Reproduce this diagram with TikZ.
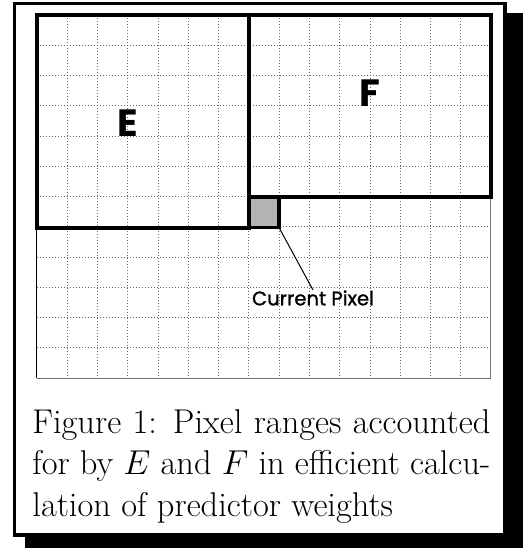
\documentclass[tikz,border=0pt]{standalone}
\usepackage{fontspec}
\usepackage{tikz}
\usetikzlibrary{positioning}
\newfontfamily\labelfont{Poppins}
\newfontfamily\pixfont[FakeBold=1.2]{Poppins}
\definecolor{pixgray}{RGB}{180,180,180}

\begin{document}
\begin{tikzpicture}[
    x=0.5pt, y=-0.5pt,
    gridline/.style={black!60, line width=0.45pt, dash pattern=on 0.45pt off 1.05pt},
    region/.style={draw, line width=1.6pt},
    regionlbl/.style={font=\labelfont\bfseries\fontsize{19}{23}\selectfont, inner sep=0pt},
    pixlbl/.style={font=\pixfont\fontsize{9.8}{11}\selectfont, inner sep=0pt},
    caption/.style={font=\fontsize{17.2}{20.75}\selectfont, text width=229pt,
                    align=justify, inner sep=0pt, anchor=north west},
]
\useasboundingbox (0,0) rectangle (523,548);

% frame with shadow
\fill[black] (25,13) rectangle (523,548);
\draw[fill=white, line width=1.65pt] (14.4,3.3) rectangle (505,535);

% pixel grid
\foreach \i in {1,...,14}
  \draw[gridline] ({37+\i*30.27},15) -- ({37+\i*30.27},378);
\foreach \j in {1,...,11}
  \draw[gridline] (37,{15+\j*30.25}) -- (491,{15+\j*30.25});
\draw[black!55, line width=0.5pt] (37,378) -- (491,378) -- (491,197);
\draw[line width=0.5pt] (37,228) -- (37,378);

% regions E and F
\draw[region] (37,15) rectangle (249,228);
\draw[region] (249,15) rectangle (491,197);
\node[region, fill=pixgray, minimum size=15pt, outer sep=0pt] (pix) at (264,212.5) {};

\node[regionlbl] (labE) at (128,123) {E};
\node[regionlbl] (labF) at (370,93) {F};

\node[pixlbl, anchor=north] (cur) at (313,290) {Current Pixel};
\draw[line width=0.5pt] (pix.south east) -- (cur.north);

\node[caption] (cap) at (32,409) {Figure~1: Pixel ranges accounted\linebreak
  for by $E$ and $F$ in efficient calcu-\linebreak
  lation of predictor weights};
\end{tikzpicture}
\end{document}
